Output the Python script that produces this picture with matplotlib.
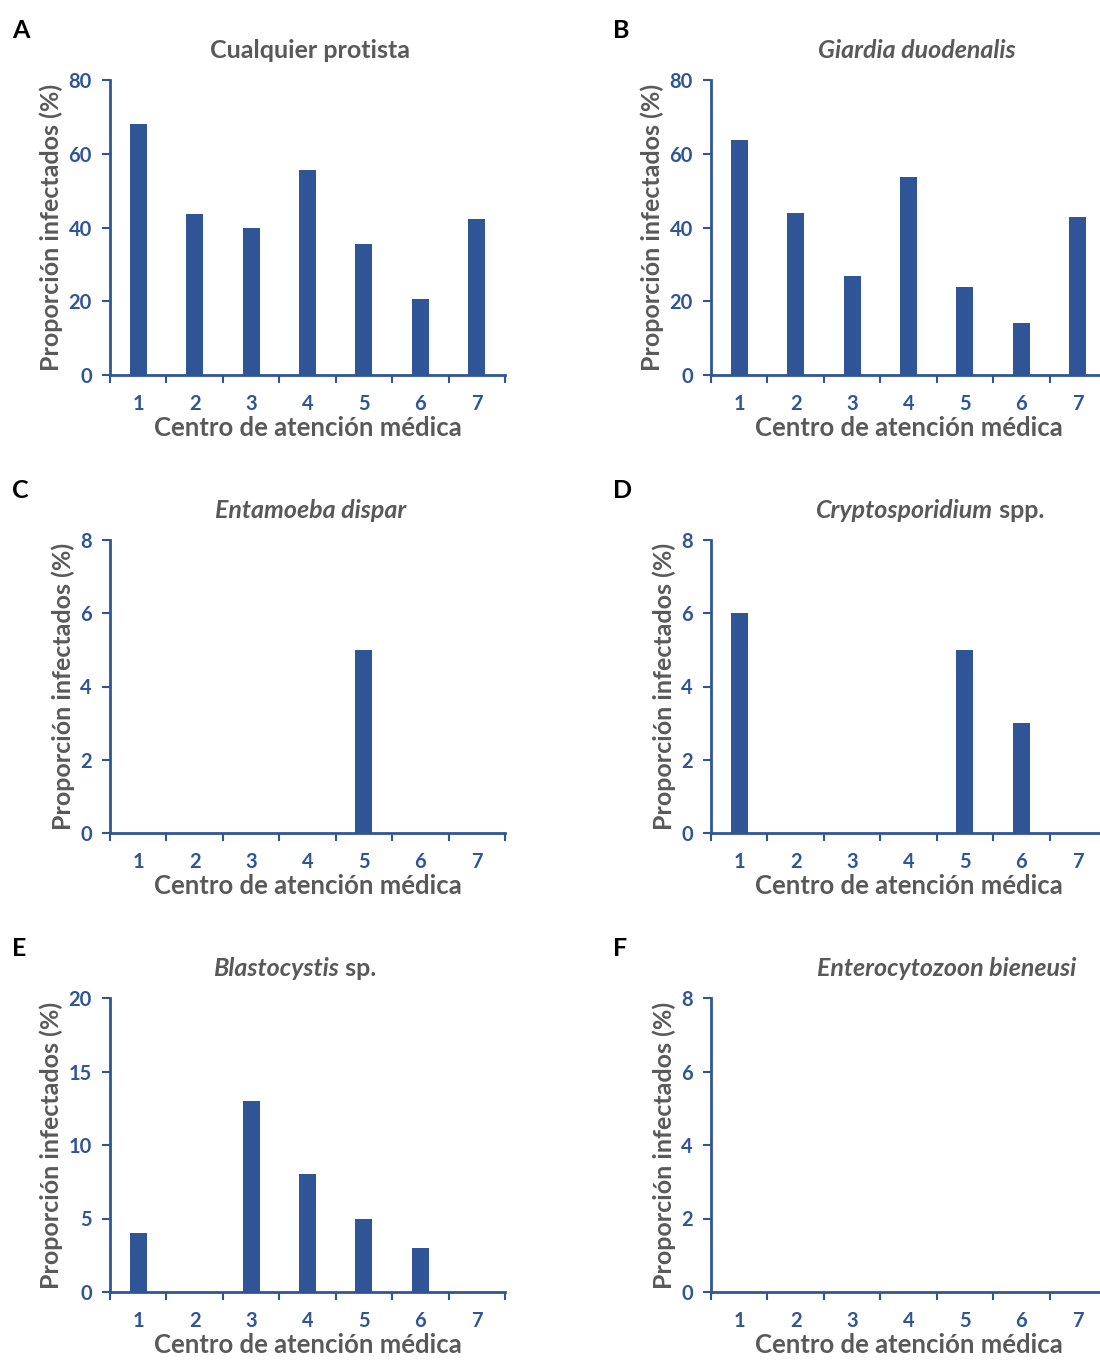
import matplotlib
matplotlib.use('Agg')
import matplotlib.pyplot as plt
import numpy as np

plt.rcParams['font.family'] = ['Lato', 'DejaVu Sans']

centros = [1, 2, 3, 4, 5, 6, 7]
cualquier_protista = [68, 43.7, 40, 55.6, 35.5, 20.6, 42.3]
giardia = [63.7, 43.9, 26.8, 53.7, 23.8, 14, 42.8]
entamoeba = [0, 0, 0, 0, 5, 0, 0]
cryptosporidium = [6, 0, 0, 0, 5, 3, 0]
blastocystis = [4, 0, 13, 8, 5, 3, 0]
enterocytozoon = [0, 0, 0, 0, 0, 0, 0]

letras = ['A', 'B', 'C', 'D', 'E', 'F']
# (italic part, regular part)
titulos = [('', 'Cualquier protista'), ('Giardia duodenalis', ''),
           ('Entamoeba dispar', ''), ('Cryptosporidium', ' spp.'),
           ('Blastocystis', ' sp.'), ('Enterocytozoon bieneusi', '')]
ymax = [80, 80, 8, 8, 20, 8]
ystep = [20, 20, 2, 2, 5, 2]
datos = [cualquier_protista, giardia, entamoeba, cryptosporidium, blastocystis, enterocytozoon]

azul = '#2F5597'
gris = '#595959'

W, H = 1100, 1360
fig = plt.figure(figsize=(W / 100, H / 100), dpi=100)

col_left = [110, 711]
row_top = [80, 540, 998]
row_bot = [375, 833, 1292]
ax_w = 395
title_cx = [310, 917, 311, 930, 295, 947]

for i in range(6):
    r, c = i // 2, i % 2
    x0 = col_left[c]
    ax = fig.add_axes([x0 / W, 1 - row_bot[r] / H, ax_w / W, (row_bot[r] - row_top[r]) / H])
    ax.bar(centros, datos[i], width=0.3, color=azul, zorder=3)
    ax.set_xlim(0.5, 7.5)
    ax.set_ylim(0, ymax[i])
    ax.set_yticks(np.arange(0, ymax[i] + 1, ystep[i]))
    ax.set_xticks(centros)
    ax.set_xticks(np.arange(0.5, 8, 1), minor=True)
    ax.tick_params(axis='x', which='major', length=0, pad=14, labelsize=14.5, labelcolor=azul)
    ax.tick_params(axis='x', which='minor', length=6, width=1.5, color=azul, direction='out')
    ax.tick_params(axis='y', length=6, width=1.5, color=azul, labelsize=14.5, labelcolor=azul, pad=7)
    for lab in ax.get_xticklabels() + ax.get_yticklabels():
        lab.set_fontweight('bold')
    for s in ['top', 'right']:
        ax.spines[s].set_visible(False)
    for s in ['left', 'bottom']:
        ax.spines[s].set_color(azul)
        ax.spines[s].set_linewidth(2)
    ax.set_xlabel('Centro de atención médica', fontsize=18.5, fontweight='bold', color=gris, labelpad=1)
    ax.set_ylabel('Proporción infectados (%)', fontsize=18, fontweight='bold', color=gris, labelpad=4)

    fig.text((x0 - 98) / W, 1 - (row_top[r] - 50) / H, letras[i], fontsize=18,
             fontweight='bold', color='black', va='center', ha='left')

    # title, possibly mixed italic/regular
    it, reg = titulos[i]
    cx = title_cx[i] / W
    ty = 1 - (row_top[r] - 29) / H
    if it and reg:
        t1 = fig.text(0, ty, it, fontsize=18, fontweight='bold', style='italic', color=gris, va='center')
        t2 = fig.text(0, ty, reg, fontsize=18, fontweight='bold', color=gris, va='center')
        fig.canvas.draw()
        w1 = t1.get_window_extent().width / W
        w2 = t2.get_window_extent().width / W
        start = cx - (w1 + w2) / 2
        t1.set_x(start)
        t2.set_x(start + w1)
    elif it:
        fig.text(cx, ty, it, fontsize=18, fontweight='bold', style='italic', color=gris, va='center', ha='center')
    else:
        fig.text(cx, ty, reg, fontsize=18, fontweight='bold', color=gris, va='center', ha='center')

plt.savefig('out.png', dpi=100)
